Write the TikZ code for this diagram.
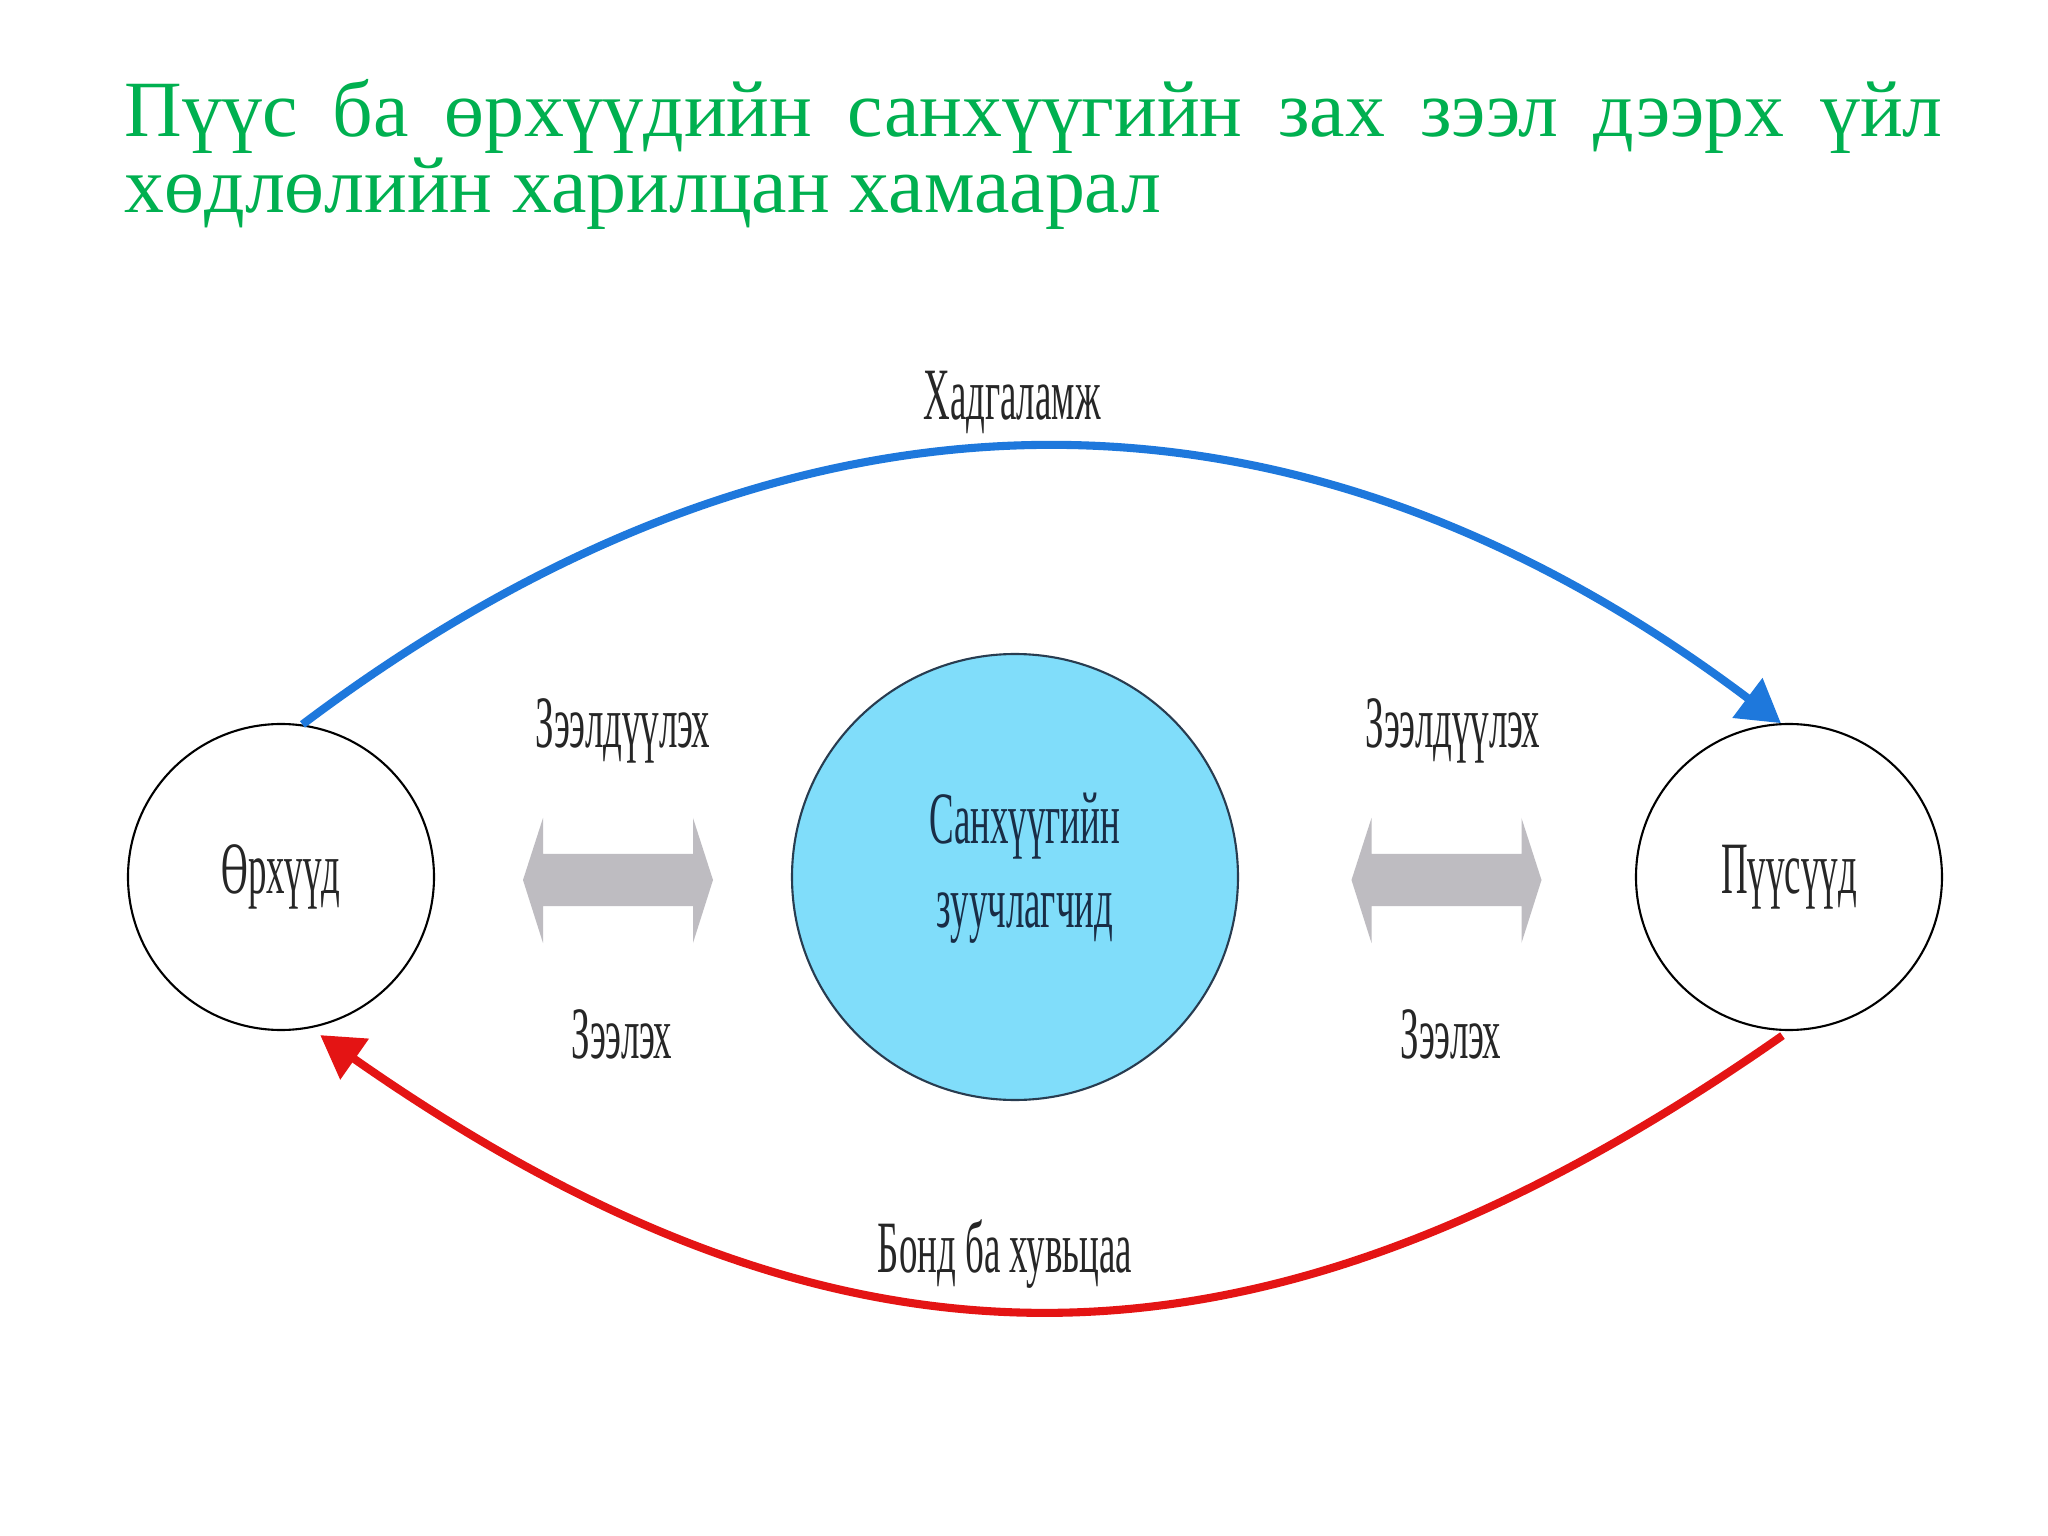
\documentclass[tikz,border=0pt]{standalone}
\usepackage{fontspec}
\setmainfont{Liberation Serif}
\newfontfamily\condensed[FakeStretch=0.5]{Liberation Serif}
\usetikzlibrary{arrows.meta}
\definecolor{titrevert}{RGB}{0,176,80}
\definecolor{bleuflux}{RGB}{30,120,220}
\definecolor{rougeflux}{RGB}{228,20,20}
\definecolor{cyanfin}{RGB}{128,221,250}
\definecolor{grisfl}{RGB}{190,188,193}

\begin{document}
\begin{tikzpicture}
\tikzstyle{flux}=[-{Triangle[length=4.2mm,width=4.8mm]},line width=2.3pt]
\tikzset{agent/.style={circle,draw,line width=0.6pt,minimum size=3.06cm,inner sep=0pt,align=center,
font=\condensed\fontsize{21}{24}\selectfont,text=black!85,fill=#1},
agent/.default={white}}
\tikzset{etiq/.style={font=\condensed\fontsize{21}{24}\selectfont,text=black!85,anchor=base,inner sep=0pt}}
\tikzset{titre/.style={anchor=base west,text=titrevert,font=\fontsize{22.7}{22}\selectfont,inner sep=0pt}}
\useasboundingbox (0,0) rectangle (20.48,-15.36);
\fill[white] (0,0) rectangle (20.48,-15.36);

\node[titre] (T1) at (1.24,-1.37) {\makebox[18.18cm][s]{Пүүс ба өрхүүдийн санхүүгийн зах зээл дээрх үйл}};
\node[titre] (T2) at (1.24,-2.13) {хөдлөлийн харилцан хамаарал};

\node[agent] (Orh) at (2.81,-8.77) {Өрхүүд};
\node[agent=cyanfin,draw={rgb,255:red,40;green,60;blue,80},minimum size=4.46cm] (Sanh) at (10.15,-8.77) {};
\node[etiq,anchor=center,align=center,text={rgb,255:red,25;green,45;blue,70}] (SanhTxt) at (10.25,-8.68) {Санхүүгийн\\зуучлагчид};
\node[agent] (Puus) at (17.89,-8.77) {Пүүсүүд};

\node[etiq] (Hadg) at (10.12,-4.20) {Хадгаламж};
\node[etiq] (Bond) at (10.05,-12.72) {Бонд ба хувьцаа};
\node[etiq] (ZdL) at (6.23,-7.47) {Зээлдүүлэх};
\node[etiq] (ZL) at (6.22,-10.58) {Зээлэх};
\node[etiq] (ZdR) at (14.53,-7.47) {Зээлдүүлэх};
\node[etiq] (ZR) at (14.51,-10.58) {Зээлэх};

\foreach \x in {6.18,14.465}
  \fill[grisfl] ({\x-0.95},-8.80) -- ({\x-0.75},-8.18) -- ({\x-0.75},-8.54) -- ({\x+0.75},-8.54)
    -- ({\x+0.75},-8.18) -- ({\x+0.95},-8.80) -- ({\x+0.75},-9.43) -- ({\x+0.75},-9.06)
    -- ({\x-0.75},-9.06) -- ({\x-0.75},-9.43) -- cycle;

\draw[flux,bleuflux] (Orh.82) to[out=37,in=143,looseness=1.06] (Puus.93);
\draw[flux,rougeflux,shorten <=0.08cm,shorten >=0.12cm] (Puus.270) to[out=-145,in=-35,looseness=1.12] (Orh.-79);

\end{tikzpicture}
\end{document}
